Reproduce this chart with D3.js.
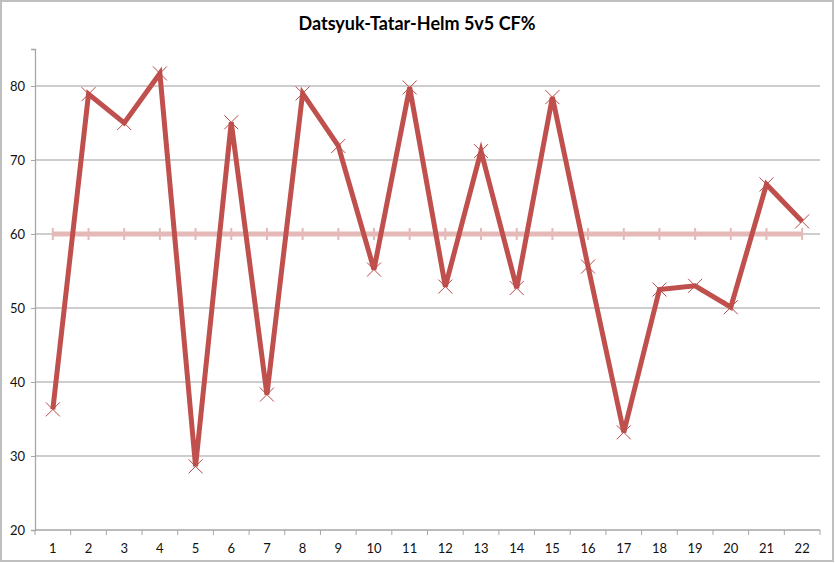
<!DOCTYPE html>
<html lang='en'>
<head>
  <meta charset='UTF-8'>
  <title>Datsyuk-Tatar-Helm 5v5 CF%</title>
  <style>
    body { margin: 0; background: #fff; }
    text { font-family: Lato, 'Open Sans', sans-serif; }
  </style>
</head>
<body>
  <script src='https://cdn.jsdelivr.net/npm/d3@7/dist/d3.min.js'></script>
  <script>
// size of the page
const width = 835;
const height = 563;

// data
const games = d3.range(1, 23).map(String);
const cfPct = [36.3, 78.9, 75, 81.7, 28.6, 75.1, 38.3, 79, 71.9, 55.2, 79.8,
               52.9, 71.2, 52.7, 78.5, 55.6, 33.2, 52.5, 53, 50.1, 66.7, 61.7];
const target = games.map(() => 60);
const yTicks = [20, 30, 40, 50, 60, 70, 80];

const margin = {top: 49, right: 15, bottom: 33, left: 35};

const svg = d3.select('body')
              .append('svg')
              .attr('width', width)
              .attr('height', height);

// outer frame
svg.append('rect')
   .attr('x', 1).attr('y', 1)
   .attr('width', width - 3).attr('height', height - 3)
   .attr('fill', '#fff')
   .attr('stroke', '#bfbfbf')
   .attr('stroke-width', 2);

svg.append('text')
   .attr('x', 417)
   .attr('y', 30)
   .attr('text-anchor', 'middle')
   .attr('font-size', 18)
   .attr('font-weight', 'bold')
   .attr('fill', '#000')
   .text('Datsyuk-Tatar-Helm 5v5 CF%');

const x = d3.scaleBand()
    .domain(games)
    .range([margin.left, width - margin.right]);

const y = d3.scaleLinear()
    .domain([20, 85])
    .range([height - margin.bottom, margin.top]);

const cx = d => x(d) + x.bandwidth() / 2;

// gridlines
svg.append('g')
   .selectAll('line')
   .data(yTicks.slice(1))
   .enter()
   .append('line')
   .attr('x1', margin.left)
   .attr('x2', width - margin.right)
   .attr('y1', d => y(d))
   .attr('y2', d => y(d))
   .attr('stroke', '#bdbdbd')
   .attr('stroke-width', 1.3);

// y axis
const yAxis = svg.append('g')
   .attr('transform', 'translate(' + margin.left + ',0)')
   .call(d3.axisLeft(y).tickValues(yTicks).tickSize(4).tickPadding(6));
yAxis.select('.domain').attr('stroke', '#a6a6a6').attr('stroke-width', 1.3);
yAxis.selectAll('.tick line').attr('stroke', '#a6a6a6');
yAxis.selectAll('.tick text').attr('font-size', 13).attr('fill', '#111')
     .style('font-family', 'Lato, sans-serif');

// x axis: ticks sit on band edges
const xAxis = svg.append('g')
   .attr('transform', 'translate(0,' + y(20) + ')');
xAxis.append('line')
   .attr('x1', margin.left).attr('x2', width - margin.right)
   .attr('stroke', '#a6a6a6').attr('stroke-width', 1.3);
xAxis.selectAll('line.edge')
   .data(games.concat(['end']))
   .enter()
   .append('line')
   .attr('class', 'edge')
   .attr('x1', d => d === 'end' ? width - margin.right : x(d))
   .attr('x2', d => d === 'end' ? width - margin.right : x(d))
   .attr('y1', 0).attr('y2', 5)
   .attr('stroke', '#a6a6a6');
xAxis.selectAll('text')
   .data(games)
   .enter()
   .append('text')
   .attr('x', d => cx(d))
   .attr('y', 23)
   .attr('text-anchor', 'middle')
   .attr('font-size', 13)
   .attr('fill', '#111')
   .text(d => d);

// 60% reference line
const line = d3.line()
    .x((d, i) => cx(games[i]))
    .y(d => y(d));

svg.append('path')
   .attr('d', line(target))
   .attr('fill', 'none')
   .attr('stroke', '#e4b9b8')
   .attr('stroke-width', 5);

svg.append('g')
   .selectAll('line')
   .data(target)
   .enter()
   .append('line')
   .attr('x1', (d, i) => cx(games[i]))
   .attr('x2', (d, i) => cx(games[i]))
   .attr('y1', d => y(d) - 6)
   .attr('y2', d => y(d) + 6)
   .attr('stroke', '#e4b9b8')
   .attr('stroke-width', 2);

// CF% series
svg.append('path')
   .attr('d', line(cfPct))
   .attr('fill', 'none')
   .attr('stroke', '#c0504d')
   .attr('stroke-width', 5)
   .attr('stroke-linejoin', 'miter');

svg.append('g')
   .selectAll('path')
   .data(cfPct)
   .enter()
   .append('path')
   .attr('transform', (d, i) => 'translate(' + cx(games[i]) + ',' + y(d) + ')')
   .attr('d', 'M-7,-7L7,7M-7,7L7,-7')
   .attr('stroke', '#b84a47')
   .attr('stroke-width', 1)
   .attr('fill', 'none');
  </script>
</body>
</html>
